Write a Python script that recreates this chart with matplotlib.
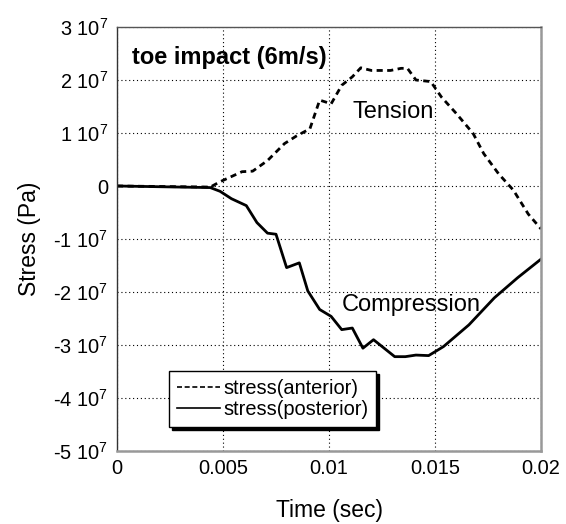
import matplotlib
matplotlib.use("Agg")
import matplotlib.pyplot as plt
from matplotlib.lines import Line2D

# time (s) and stress (x 1e7 Pa)
t_ant = [0.0, 0.0044, 0.00486, 0.0059, 0.0064, 0.0071, 0.0079, 0.00845, 0.0091,
         0.00956, 0.0098, 0.0101, 0.0106, 0.0111, 0.0115, 0.0120, 0.0129, 0.0134,
         0.0137, 0.0141, 0.0148, 0.0153, 0.0160, 0.0168, 0.0173, 0.0180, 0.0187,
         0.0194, 0.0200]
s_ant = [0.0, -0.02, 0.08, 0.27, 0.28, 0.48, 0.80, 0.94, 1.08,
         1.62, 1.59, 1.55, 1.90, 2.06, 2.23, 2.18, 2.18, 2.22,
         2.22, 2.00, 1.97, 1.68, 1.37, 0.99, 0.61, 0.23, -0.08,
         -0.53, -0.81]

t_post = [0.0, 0.0044, 0.00486, 0.0054, 0.0061, 0.0066, 0.0071, 0.0075, 0.0080,
          0.0086, 0.0090, 0.00956, 0.0101, 0.0106, 0.0111, 0.0116, 0.0121, 0.0131,
          0.0136, 0.0141, 0.0147, 0.0154, 0.0166, 0.0178, 0.0189, 0.0200]
s_post = [0.0, -0.03, -0.10, -0.24, -0.37, -0.69, -0.89, -0.91, -1.54,
          -1.45, -1.98, -2.33, -2.46, -2.71, -2.68, -3.06, -2.90, -3.22,
          -3.22, -3.19, -3.20, -3.03, -2.62, -2.11, -1.73, -1.38]

x_ticks = [0, 0.005, 0.01, 0.015, 0.02]
x_labels = ["0", "0.005", "0.01", "0.015", "0.02"]
y_ticks = [3, 2, 1, 0, -1, -2, -3, -4, -5]
y_labels = [("0" if v == 0 else f"{v} 10$^{{7}}$") for v in y_ticks]

plt.rcParams["font.family"] = ["Liberation Sans", "DejaVu Sans"]
plt.rcParams["mathtext.fontset"] = "custom"
plt.rcParams["mathtext.rm"] = "Liberation Sans"

fig = plt.figure(figsize=(5.66, 5.24), dpi=100)
ax = fig.add_axes([117 / 566, 1 - 451 / 524, 424 / 566, 424 / 524])

ax.plot(t_ant, s_ant, color="black", lw=2.0, dashes=(2.2, 1.6))
ax.plot(t_post, s_post, color="black", lw=2.0)

ax.set_xlim(0, 0.02)
ax.set_ylim(-5, 3)
ax.set_xticks(x_ticks)
ax.set_xticklabels(x_labels)
ax.set_yticks(y_ticks)
ax.set_yticklabels(y_labels)
ax.tick_params(direction="in", length=0, labelsize=14.4)
ax.tick_params(axis="x", pad=6)
ax.tick_params(axis="y", pad=6.5)
ax.grid(True, color="black", ls=(0, (1, 2.5)), lw=0.8)

ax.spines["left"].set_color("#333333")
ax.spines["left"].set_linewidth(1.0)
ax.spines["top"].set_color("#555555")
ax.spines["top"].set_linewidth(1.0)
ax.spines["right"].set_color("#999999")
ax.spines["right"].set_linewidth(1.8)
ax.spines["bottom"].set_color("#999999")
ax.spines["bottom"].set_linewidth(1.8)

ax.set_xlabel("Time (sec)", fontsize=16.5, labelpad=15)
ax.set_ylabel("Stress (Pa)", fontsize=16.5, labelpad=9)

ax.text(0.0007, 2.43, "toe impact (6m/s)", fontsize=17, fontweight="bold", va="center")
ax.text(0.0111, 1.39, "Tension", fontsize=17, va="center")
ax.text(0.0106, -2.25, "Compression", fontsize=17, va="center")

handles = [Line2D([], [], color="black", lw=1.2, dashes=(3, 1.6)),
           Line2D([], [], color="black", lw=1.2)]
leg = ax.legend(handles, ["stress(anterior)", "stress(posterior)"],
                loc="lower left", bbox_to_anchor=(52 / 424, 24 / 424), borderaxespad=0,
                fontsize=14.4, frameon=True, fancybox=False,
                shadow={"color": "black", "alpha": 1}, handlelength=2.15,
                handletextpad=0.15, borderpad=0.4, labelspacing=0.1)
leg.get_frame().set_edgecolor("black")
leg.get_frame().set_linewidth(1.0)

fig.savefig("out.png", dpi=100)
